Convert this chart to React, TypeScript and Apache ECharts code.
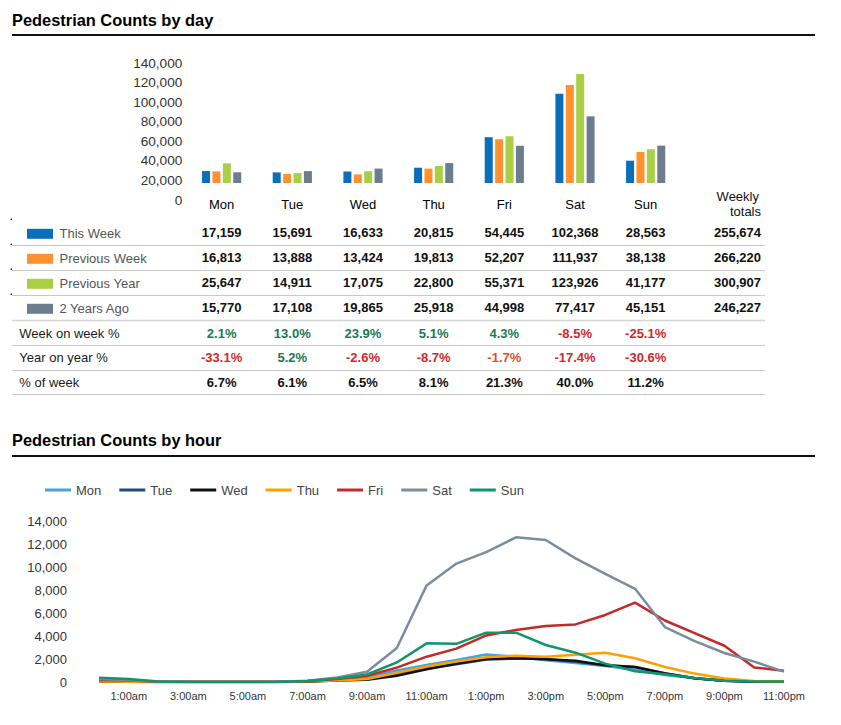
import React, { useEffect, useRef } from 'react';
import * as echarts from 'echarts';

const days = ['Mon', 'Tue', 'Wed', 'Thu', 'Fri', 'Sat', 'Sun'];
const barSeriesNames = ['This Week', 'Previous Week', 'Previous Year', '2 Years Ago'];
const thisWeek = [17159, 15691, 16633, 20815, 54445, 102368, 28563];
const previousWeek = [16813, 13888, 13424, 19813, 52207, 111937, 38138];
const previousYear = [25647, 14911, 17075, 22800, 55371, 123926, 41177];
const twoYearsAgo = [15770, 17108, 19865, 25918, 44998, 77417, 45151];
const weeklyTotals = [255674, 266220, 300907, 246227];
const weekOnWeek = [2.1, 13.0, 23.9, 5.1, 4.3, -8.5, -25.1];
const yearOnYear = [-33.1, 5.2, -2.6, -8.7, -1.7, -17.4, -30.6];
const pctOfWeek = [6.7, 6.1, 6.5, 8.1, 21.3, 40.0, 11.2];
const pctRowLabels = ['Week on week %', 'Year on year %', '% of week'];

const hours = [
  '12:00am', '1:00am', '2:00am', '3:00am', '4:00am', '5:00am', '6:00am', '7:00am',
  '8:00am', '9:00am', '10:00am', '11:00am', '12:00pm', '1:00pm', '2:00pm', '3:00pm',
  '4:00pm', '5:00pm', '6:00pm', '7:00pm', '8:00pm', '9:00pm', '10:00pm', '11:00pm',
];
const monHourly = [50, 30, 10, 0, 0, 0, 0, 50, 150, 430, 1000, 1480, 1910, 2400, 2200, 1900, 1650, 1390, 1070, 600, 330, 110, 20, 0];
const tueHourly = [60, 30, 10, 0, 0, 0, 10, 60, 150, 230, 650, 1150, 1550, 1950, 2050, 2000, 1750, 1450, 1300, 760, 330, 110, 40, 20];
const wedHourly = [40, 20, 10, 0, 0, 0, 10, 50, 120, 200, 550, 1100, 1600, 2000, 2080, 1980, 1850, 1450, 1300, 750, 330, 100, 40, 20];
const thuHourly = [40, 20, 10, 0, 0, 0, 10, 60, 130, 260, 800, 1350, 1780, 2150, 2290, 2200, 2370, 2550, 2060, 1300, 730, 300, 80, 50];
const friHourly = [180, 120, 30, 0, 0, 0, 20, 80, 250, 550, 1250, 2200, 2900, 4050, 4520, 4870, 5010, 5830, 6900, 5350, 4250, 3150, 1270, 980];
const satHourly = [250, 150, 50, 0, 0, 0, 20, 100, 400, 900, 2950, 8400, 10300, 11300, 12580, 12350, 10750, 9400, 8100, 4780, 3550, 2520, 1770, 900];
const sunHourly = [370, 270, 50, 0, 0, 0, 10, 80, 300, 650, 1700, 3360, 3320, 4290, 4290, 3220, 2550, 1600, 930, 680, 350, 110, 50, 50];

const FONT = '"Liberation Sans", Arial, Helvetica, sans-serif';
const barColors = ['#0a6ebd', '#ff922f', '#a8cf45', '#6b7d8f'];
const lineColors = ['#45a2de', '#1d4f7a', '#111111', '#ffa000', '#c62828', '#7b8c9c', '#13956b'];

export default function App() {
  const ref = useRef<HTMLDivElement>(null);
  useEffect(() => {
    if (!ref.current) return;
    const chart = echarts.init(ref.current, null, { renderer: 'svg' });

    const barLeft = 186.3;
    const barWidthTotal = 494.7;
    const colW = barWidthTotal / days.length;
    const colX = (i: number) => barLeft + colW * (i + 0.5);

    const graphic: any[] = [];
    const addText = (text: string, x: number, y: number, opts: any = {}) => {
      graphic.push({
        type: 'text',
        x,
        y,
        silent: true,
        style: {
          text,
          fill: opts.fill || '#111',
          fontSize: opts.fontSize || 13,
          fontWeight: opts.fontWeight || 'normal',
          fontFamily: FONT,
          align: opts.align || 'left',
          verticalAlign: 'middle',
        },
      });
    };
    const addLine = (x1: number, y1: number, x2: number, y2: number, stroke: string, lineWidth: number) => {
      graphic.push({ type: 'line', silent: true, shape: { x1, y1, x2, y2 }, style: { stroke, lineWidth } });
    };

    // Titles
    addText('Pedestrian Counts by day', 12, 20, { fontSize: 16.4, fontWeight: 'bold', fill: '#000' });
    addLine(12, 35, 815, 35, '#111', 2);
    addText('Pedestrian Counts by hour', 12, 440, { fontSize: 16.4, fontWeight: 'bold', fill: '#000' });
    addLine(12, 456, 815, 456, '#111', 2);

    // Weekly totals header
    addText('Weekly', 759, 196, { align: 'right', fill: '#111' });
    addText('totals', 761, 211, { align: 'right', fill: '#111' });

    // Table
    const rowY = [232.3, 257.3, 282.3, 307.3, 333.3, 357.7, 382.3];
    const lineY = [245.5, 270.5, 295.5, 320.5, 345.5, 370.5, 394.5];
    lineY.forEach((y, i) => {
      addLine(12, y, 765, y, i === 3 ? '#d4d4d4' : '#c8c8c8', i === 3 ? 1.5 : 1);
    });
    [220, 245, 270, 295].forEach((y) => {
      graphic.push({ type: 'rect', silent: true, shape: { x: 10.5, y: y - 1.5, width: 1.5, height: 1.5 }, style: { fill: '#333' } });
    });
    const valueRows = [thisWeek, previousWeek, previousYear, twoYearsAgo];
    valueRows.forEach((row, r) => {
      row.forEach((v, i) => {
        addText(v.toLocaleString('en-US'), colX(i), rowY[r], { fontWeight: 'bold', align: 'center' });
      });
      addText(weeklyTotals[r].toLocaleString('en-US'), 761, rowY[r], { fontWeight: 'bold', align: 'right' });
    });
    const pctColor = (v: number) => (v >= 0 ? '#177a57' : v > -2 ? '#e0502c' : '#cf2a2a');
    const pctRows = [weekOnWeek, yearOnYear, pctOfWeek];
    pctRows.forEach((row, r) => {
      addText(pctRowLabels[r], 19.3, rowY[4 + r], { fill: '#1a1a1a' });
      row.forEach((v, i) => {
        addText(v.toFixed(1) + '%', colX(i), rowY[4 + r], {
          fontWeight: 'bold',
          align: 'center',
          fill: r === 2 ? '#111' : pctColor(v),
        });
      });
    });

    const barData = [thisWeek, previousWeek, previousYear, twoYearsAgo];
    const lineData = [monHourly, tueHourly, wedHourly, thuHourly, friHourly, satHourly, sunHourly];

    const barLegends = barSeriesNames.map((name, k) => ({
      data: [name],
      orient: 'vertical',
      left: 27,
      top: rowY[k] - 5,
      padding: 0,
      itemWidth: 26,
      itemHeight: 10,
      icon: 'rect',
      selectedMode: false,
      textStyle: { fontSize: 13, color: '#555', fontFamily: FONT, padding: [0, 0, 0, 1.5] },
    }));

    const option: any = {
      animation: false,
      textStyle: { fontFamily: FONT },
      legend: [
        ...barLegends,
        {
          data: days,
          orient: 'horizontal',
          left: 45,
          top: 482,
          padding: 0,
          itemWidth: 26,
          itemHeight: 3,
          itemGap: 18,
          icon: 'rect',
          selectedMode: false,
          textStyle: { fontSize: 13, color: '#444', lineHeight: 16, fontFamily: FONT },
        },
      ],
      grid: [
        { left: barLeft, top: 59.5, width: barWidthTotal, height: 123.5 },
        { left: barLeft, top: 63, width: barWidthTotal, height: 137 },
        { left: 99, top: 521, width: 685, height: 161 },
      ],
      xAxis: [
        {
          gridIndex: 0,
          type: 'category',
          data: days,
          axisLine: { show: false },
          axisTick: { show: false },
          axisLabel: { fontSize: 13, color: '#000', margin: 14.5, fontFamily: FONT },
        },
        { gridIndex: 1, type: 'value', min: 0, max: 1, show: false },
        {
          gridIndex: 2,
          type: 'category',
          data: hours,
          boundaryGap: false,
          axisLine: { show: false },
          axisTick: { show: false },
          axisLabel: {
            fontSize: 11,
            color: '#333',
            margin: 8,
            fontFamily: FONT,
            interval: (idx: number) => idx % 2 === 1,
          },
        },
      ],
      yAxis: [
        {
          gridIndex: 0,
          type: 'value',
          min: 4000,
          max: 140000,
          show: false,
          splitLine: { show: false },
        },
        {
          gridIndex: 1,
          type: 'value',
          min: 0,
          max: 140000,
          interval: 20000,
          axisLine: { show: false },
          axisTick: { show: false },
          splitLine: { show: false },
          axisLabel: { fontSize: 13.6, color: '#333', margin: 4, fontFamily: FONT },
        },
        {
          gridIndex: 2,
          type: 'value',
          min: 0,
          max: 14000,
          interval: 2000,
          axisLine: { show: false },
          axisTick: { show: false },
          splitLine: { show: false },
          axisLabel: { fontSize: 13, color: '#333', margin: 32, fontFamily: FONT },
        },
      ],
      series: [
        ...barSeriesNames.map((name, k) => ({
          name,
          type: 'bar',
          xAxisIndex: 0,
          yAxisIndex: 0,
          data: barData[k],
          barWidth: 8,
          barGap: '30%',
          itemStyle: { color: barColors[k] },
          silent: true,
        })),
        ...days.map((name, k) => ({
          name,
          type: 'line',
          xAxisIndex: 2,
          yAxisIndex: 2,
          data: lineData[k],
          symbol: 'none',
          lineStyle: { color: lineColors[k], width: 2.5 },
          itemStyle: { color: lineColors[k] },
          silent: true,
        })),
      ],
      graphic,
    };
    chart.setOption(option);
    return () => chart.dispose();
  }, []);
  return (
    <div
      ref={ref}
      style={{ position: 'absolute', left: 0, top: 0, width: 841, height: 725, background: '#fff' }}
    />
  );
}
